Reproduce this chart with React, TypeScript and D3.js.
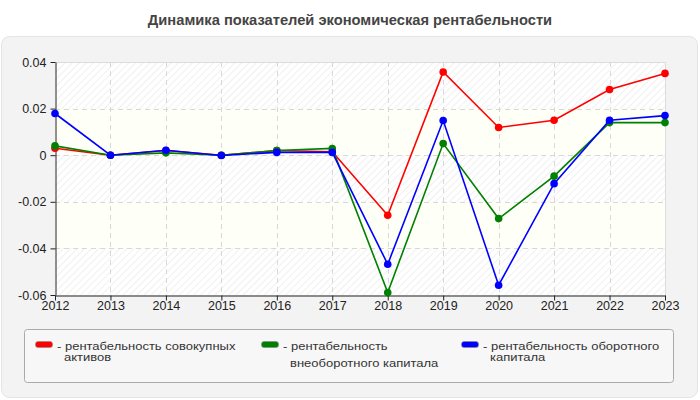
import { useEffect, useRef } from 'react'
import * as d3 from 'd3'

const years = ['2012', '2013', '2014', '2015', '2016', '2017', '2018', '2019', '2020', '2021', '2022', '2023']

const totalAssets = [0.003, 0.0, 0.002, 0.0, 0.002, 0.0015, -0.0258, 0.0357, 0.0119, 0.015, 0.0282, 0.0351]
const fixedCapital = [0.004, 0.0, 0.001, 0.0, 0.002, 0.0029, -0.0589, 0.005, -0.0272, -0.009, 0.014, 0.014]
const workingCapital = [0.0179, 0.0, 0.0021, -0.0001, 0.0012, 0.0012, -0.0468, 0.0149, -0.0558, -0.0122, 0.015, 0.017]

const yTicks = [0.04, 0.02, 0, -0.02, -0.04, -0.06]

const series = [
  { name: 'рентабельность совокупных активов', lines: ['рентабельность совокупных', 'активов'], color: '#ff0000', values: totalAssets },
  { name: 'рентабельность внеоборотного капитала', lines: ['рентабельность', 'внеоборотного капитала'], color: '#008000', values: fixedCapital },
  { name: 'рентабельность оборотного капитала', lines: ['рентабельность оборотного', 'капитала'], color: '#0000ff', values: workingCapital },
]

const W = 700
const H = 400
const FONT = '"Liberation Sans", Arial, sans-serif'

export default function App() {
  const svgRef = useRef<SVGSVGElement>(null)

  useEffect(() => {
    if (!svgRef.current) return
    const svg = d3.select(svgRef.current)
    svg.selectAll('*').remove()

    const left = 55, right = 665, top = 62, bottom = 295

    const x = d3.scalePoint<string>().domain(years).range([left, right])
    const y = d3.scaleLinear().domain([-0.06, 0.04]).range([bottom, top])

    const defs = svg.append('defs')
    const pat = defs.append('pattern')
      .attr('id', 'hatch')
      .attr('patternUnits', 'userSpaceOnUse')
      .attr('width', 5)
      .attr('height', 5)
      .attr('patternTransform', 'rotate(45)')
    pat.append('rect').attr('width', 5).attr('height', 5).attr('fill', '#ffffff')
    pat.append('line')
      .attr('x1', 0).attr('y1', 0).attr('x2', 0).attr('y2', 5)
      .attr('stroke', '#ececec').attr('stroke-width', 1.5)

    // outer panel
    svg.append('rect')
      .attr('x', 1.5).attr('y', 36.5)
      .attr('width', W - 4).attr('height', H - 39)
      .attr('rx', 8)
      .attr('fill', '#f3f3f3')
      .attr('stroke', '#e4e4e4')

    svg.append('text')
      .attr('x', W / 2).attr('y', 25)
      .attr('text-anchor', 'middle')
      .attr('font-family', FONT)
      .attr('font-size', 14.7)
      .attr('font-weight', 'bold')
      .attr('fill', '#444')
      .text('Динамика показателей экономическая рентабельности')

    // alternating bands
    const bands = d3.pairs(yTicks)
    svg.append('g').selectAll('rect')
      .data(bands)
      .enter()
      .append('rect')
      .attr('x', left)
      .attr('y', d => y(d[0]))
      .attr('width', right - left)
      .attr('height', d => y(d[1]) - y(d[0]))
      .attr('fill', (d, i) => i % 2 === 0 ? 'url(#hatch)' : '#fefff7')

    // plot frame top/right
    svg.append('path')
      .attr('d', `M${left},${top + 0.5}H${right + 0.5}V${bottom}`)
      .attr('fill', 'none')
      .attr('stroke', '#dcdcdc')

    const grid = svg.append('g')
      .attr('stroke', '#d8d8d8')
      .attr('stroke-dasharray', '5,4')
    grid.selectAll('.gx')
      .data(years.slice(1, -1))
      .enter()
      .append('line')
      .attr('x1', d => Math.round(x(d)!) + 0.5).attr('x2', d => Math.round(x(d)!) + 0.5)
      .attr('y1', top).attr('y2', bottom)
    grid.selectAll('.gy')
      .data(yTicks.slice(1, -1))
      .enter()
      .append('line')
      .attr('x1', left).attr('x2', right)
      .attr('y1', d => Math.round(y(d)) + 0.5).attr('y2', d => Math.round(y(d)) + 0.5)

    const yAxis = svg.append('g')
      .attr('transform', `translate(${left + 0.5},0)`)
      .call(d3.axisLeft(y).tickValues(yTicks).tickSize(5).tickSizeOuter(0).tickFormat(d => String(+d)))
    yAxis.selectAll('text').attr('font-size', 12.5).attr('font-family', FONT).attr('fill', '#222').attr('dx', -1)
    yAxis.selectAll('line, path').attr('stroke', '#222')

    const xAxis = svg.append('g')
      .attr('transform', `translate(0,${bottom + 0.5})`)
      .call(d3.axisBottom(x).tickSize(5).tickSizeOuter(0))
    xAxis.selectAll('text').attr('font-size', 12.5).attr('font-family', FONT).attr('fill', '#222').attr('dy', '0.55em')
    xAxis.selectAll('line, path').attr('stroke', '#222')

    const line = d3.line<number>()
      .x((_, i) => x(years[i])!)
      .y(d => y(d))

    series.forEach(s => {
      const g = svg.append('g')
      g.append('path')
        .datum(s.values)
        .attr('d', line)
        .attr('fill', 'none')
        .attr('stroke', s.color)
        .attr('stroke-width', 1.6)
      g.selectAll('circle')
        .data(s.values)
        .enter()
        .append('circle')
        .attr('cx', (_, i) => x(years[i])!)
        .attr('cy', d => y(d))
        .attr('r', 3.8)
        .attr('fill', s.color)
    })

    // legend
    const lg = svg.append('g')
    lg.append('rect')
      .attr('x', 24.5).attr('y', 329.5)
      .attr('width', 649).attr('height', 53)
      .attr('rx', 3)
      .attr('fill', '#f7f7f7')
      .attr('stroke', '#aaaaaa')

    const legendX = [35, 261, 461]
    const secondLineY = [361, 367, 361]
    series.forEach((s, i) => {
      const item = lg.append('g').attr('transform', `translate(${legendX[i]},0)`)
      item.append('rect')
        .attr('x', 0.5).attr('y', 341.5)
        .attr('width', 17).attr('height', 6)
        .attr('rx', 2.5)
        .attr('fill', s.color)
        .attr('stroke', '#888')
        .attr('stroke-width', 0.6)
      // labels are drawn slightly squashed vertically, lines sit tight
      s.lines.forEach((ln, j) => {
        const baseY = j === 0 ? 349.5 : secondLineY[i]
        item.append('text')
          .attr('transform', `translate(${j === 0 ? 22 : 29},${baseY}) scale(1,0.82)`)
          .attr('font-family', FONT)
          .attr('font-size', 13)
          .attr('fill', '#333')
          .text(j === 0 ? `- ${ln}` : ln)
      })
    })
  }, [])

  return (
    <svg
      ref={svgRef}
      width={W}
      height={H}
      style={{ position: 'absolute', left: 0, top: 0, background: '#fff' }}
    />
  )
}
